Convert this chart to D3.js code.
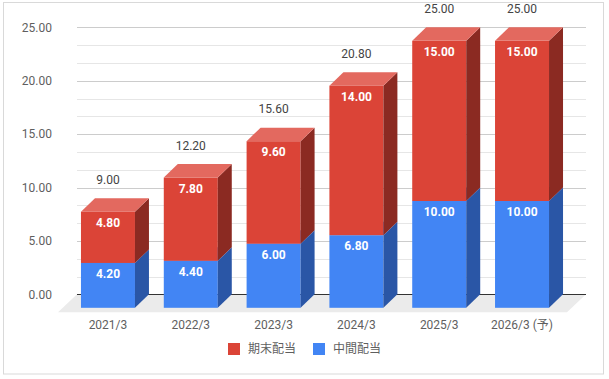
<!DOCTYPE html>
<html><head><meta charset="utf-8">
<script src="https://cdn.jsdelivr.net/npm/d3@7"></script>
<style>
html,body{margin:0;padding:0;background:#fff;}
svg{display:block;}
text{font-family:Roboto,"Noto Sans CJK JP",sans-serif;}
</style></head>
<body>
<script>
const categories = ["2021/3","2022/3","2023/3","2024/3","2025/3","2026/3 (予)"];
const interim = [4.2, 4.4, 6.0, 6.8, 10.0, 10.0];   // 中間配当
const yearEnd = [4.8, 7.8, 9.6, 14.0, 15.0, 15.0];  // 期末配当
const seriesNames = ["期末配当","中間配当"];
const yTicks = [0,5,10,15,20,25];

const W = 609, H = 379;
const svg = d3.select("body").append("svg").attr("width", W).attr("height", H);

// frame
svg.append("rect").attr("x",3.5).attr("y",2.5).attr("width",600).attr("height",371.5)
  .attr("fill","none").attr("stroke","#d9d9d9").attr("stroke-width",1);

const DX = 14, DY = 13.5;      // bar depth
const FDX = 19, FDY = 18;      // floor depth
const backL = 77, backR = 586;

const y = d3.scaleLinear().domain([0,25]).range([294.3, 27.3]);
const x = d3.scaleBand().domain(categories).range([backL-DX, backR-DX-5])
  .paddingInner(0.348).paddingOuter(0.217).align(0.5);

// minor gridlines
const minor = d3.range(0, 25.001, 5/3).filter(v => Math.abs(v/5 - Math.round(v/5)) > 1e-6);
svg.append("g").selectAll("line").data(minor).join("line")
  .attr("x1", backL).attr("x2", backR)
  .attr("y1", d => Math.round(y(d))+0.5).attr("y2", d => Math.round(y(d))+0.5)
  .attr("stroke","#e6e6e6");
svg.append("g").selectAll("line").data(yTicks.filter(d=>d>0)).join("line")
  .attr("x1", backL).attr("x2", backR)
  .attr("y1", d => Math.round(y(d))+0.5).attr("y2", d => Math.round(y(d))+0.5)
  .attr("stroke","#cccccc");

// floor
const y0 = y(0);
svg.append("path")
  .attr("d", `M${backL},${y0}L${backR},${y0}L${backR-FDX},${y0+FDY}L${backL-FDX},${y0+FDY}Z`)
  .attr("fill","#ebebeb");
// baseline
svg.append("line").attr("x1",backL).attr("x2",backR)
  .attr("y1",Math.round(y0)+0.5).attr("y2",Math.round(y0)+0.5)
  .attr("stroke","#333").attr("stroke-width",1);

// y axis labels
svg.append("g").selectAll("text").data(yTicks).join("text")
  .attr("x", 52).attr("y", d => y(d)).attr("dy","0.35em")
  .attr("text-anchor","end").attr("font-size",12).attr("fill","#5f5f5f")
  .text(d => d3.format(".2f")(d));

// bars
const colors = {
  blue: {front:"#4285f4", side:"#2a56a6", top:"#6d9ff6"},
  red:  {front:"#db4437", side:"#8b2a22", top:"#e3695f"}
};
const fy = v => y(v) + DY;   // front face y
const g = svg.append("g");
categories.forEach((c, i) => {
  const x0 = x(c), x1 = x0 + x.bandwidth();
  const segs = [
    {lo:0, hi:interim[i], col:colors.blue},
    {lo:interim[i], hi:interim[i]+yearEnd[i], col:colors.red}
  ];
  segs.forEach(s => {
    const yt = fy(s.hi), yb = fy(s.lo);
    g.append("rect").attr("x",x0).attr("y",yt).attr("width",x1-x0).attr("height",yb-yt).attr("fill",s.col.front);
    g.append("path").attr("d",`M${x1},${yt}L${x1+DX},${yt-DY}L${x1+DX},${yb-DY}L${x1},${yb}Z`).attr("fill",s.col.side);
    g.append("path").attr("d",`M${x0},${yt}L${x0+DX},${yt-DY}L${x1+DX},${yt-DY}L${x1},${yt}Z`).attr("fill",s.col.top);
  });
  // segment labels
  g.append("text").attr("x",(x0+x1)/2).attr("y",fy(interim[i])+11).attr("dy","0.35em")
    .attr("text-anchor","middle").attr("font-size",12).attr("font-weight","bold").attr("fill","#fff")
    .text(d3.format(".2f")(interim[i]));
  g.append("text").attr("x",(x0+x1)/2).attr("y",fy(interim[i]+yearEnd[i])+11).attr("dy","0.35em")
    .attr("text-anchor","middle").attr("font-size",12).attr("font-weight","bold").attr("fill","#fff")
    .text(d3.format(".2f")(yearEnd[i]));
  // total
  g.append("text").attr("x",(x0+x1)/2).attr("y",fy(interim[i]+yearEnd[i])-32).attr("dy","0.35em")
    .attr("text-anchor","middle").attr("font-size",12).attr("fill","#444")
    .text(d3.format(".2f")(interim[i]+yearEnd[i]));
  // category label
  g.append("text").attr("x",(x0+x1)/2).attr("y",325).attr("dy","0.35em")
    .attr("text-anchor","middle").attr("font-size",12).attr("fill","#5f5f5f")
    .text(c);
});

// legend
const leg = [{name:seriesNames[0], col:colors.red.front, x:228},{name:seriesNames[1], col:colors.blue.front, x:313}];
const lg = svg.append("g");
leg.forEach(l => {
  lg.append("rect").attr("x",l.x).attr("y",343).attr("width",12).attr("height",12).attr("fill",l.col);
  lg.append("text").attr("x",l.x+20).attr("y",349).attr("dy","0.35em").attr("font-size",12).attr("fill","#5f5f5f").text(l.name);
});
</script>
</body></html>
